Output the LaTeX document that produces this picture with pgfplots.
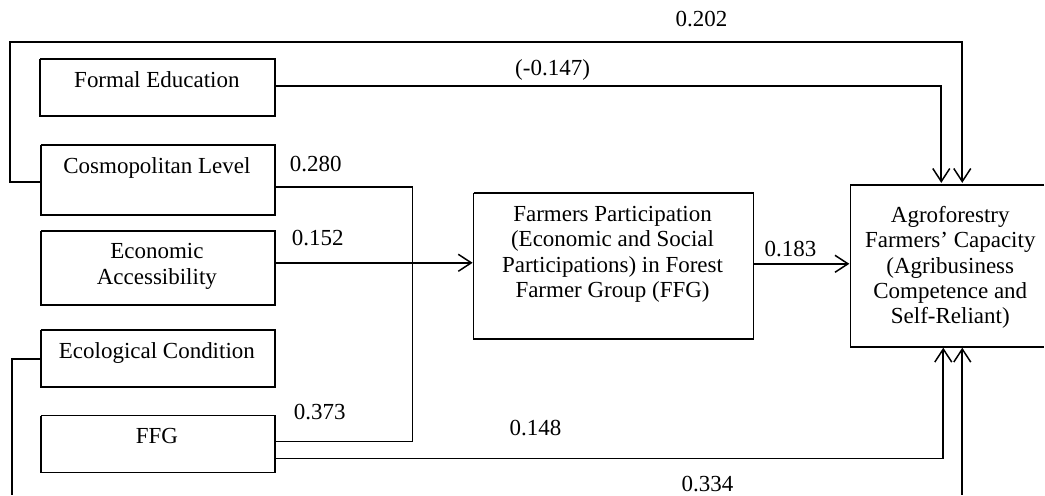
\documentclass[border=0pt]{standalone}
\usepackage{fontspec}
\setmainfont{Liberation Serif}
\usepackage{pgfplots}
\pgfplotsset{compat=1.18}
\usetikzlibrary{arrows.meta}
\begin{document}
\fontsize{23bp}{25.5bp}\selectfont
\begin{tikzpicture}[every node/.style={inner sep=0pt, outer sep=0pt}]
\begin{axis}[x=1bp, y=1bp, y dir=reverse,
  xmin=0, xmax=1045, ymin=0, ymax=495,
  hide axis, clip=false, scale only axis,
  ln/.style={black, solid, line width=1.6bp, line cap=butt, line join=miter, mark=none},
  ar/.style={ln, -{Straight Barb[length=13bp,width=17bp,line width=1.5bp]}}]
% invisible frame
\addplot[draw=none, mark=none] coordinates {(0,0) (1045,495)};
% boxes
\addplot[ln] coordinates {(40,59) (275,59) (275,116) (40,116) (40,59)};
\addplot[ln] coordinates {(41,145) (275,145) (275,215) (41,215) (41,145)};
\addplot[ln] coordinates {(41,231) (275,231) (275,305) (41,305) (41,231)};
\addplot[ln] coordinates {(41,330) (275,330) (275,387) (41,387) (41,330)};
\addplot[ln] coordinates {(41,416) (275,416) (275,473) (41,473) (41,416)};
\addplot[ln] coordinates {(474,193) (754,193) (754,339) (474,339) (474,193)};
\addplot[ln] coordinates {(1045,185) (851,185) (851,347) (1045,347)};
% paths
\addplot[ar] coordinates {(41,182) (10,182) (10,42) (963,42) (963,183)};
\addplot[ar] coordinates {(275,86) (942,86) (942,183)};
\addplot[ln] coordinates {(275,187) (413,187)};
\addplot[ln] coordinates {(275,263) (413,263)};
\addplot[ar] coordinates {(413,263) (473,263)};
\addplot[ln] coordinates {(413,187) (413,442)};
\addplot[ln] coordinates {(275,442) (413,442)};
\addplot[ar] coordinates {(275,459) (944,459) (944,348)};
\addplot[ln] coordinates {(41,359) (12,359) (12,495)};
\addplot[ar] coordinates {(963,495) (963,348)};
\addplot[ar] coordinates {(754,264) (850,264)};
% box texts
\node[anchor=base] at (axis cs:157,88) {Formal Education};
\node[anchor=base] at (axis cs:157,174) {Cosmopolitan Level};
\node[anchor=base] at (axis cs:157,259) {Economic};
\node[anchor=base] at (axis cs:157,285) {Accessibility};
\node[anchor=base] at (axis cs:157,359) {Ecological Condition};
\node[anchor=base] at (axis cs:157,444) {FFG};
\node[anchor=base] at (axis cs:613,222) {Farmers Participation};
\node[anchor=base] at (axis cs:613,247) {(Economic and Social};
\node[anchor=base] at (axis cs:613,273) {Participations) in Forest};
\node[anchor=base] at (axis cs:613,298) {Farmer Group (FFG)};
\node[anchor=base] at (axis cs:951,223) {Agroforestry};
\node[anchor=base] at (axis cs:951,248) {Farmers’ Capacity};
\node[anchor=base] at (axis cs:951,274) {(Agribusiness};
\node[anchor=base] at (axis cs:951,299) {Competence and};
\node[anchor=base] at (axis cs:951,324) {Self-Reliant)};
% coefficients
\node[anchor=base] at (axis cs:702,27) {0.202};
\node[anchor=base] at (axis cs:553,76) {(-0.147)};
\node[anchor=base] at (axis cs:316,172) {0.280};
\node[anchor=base] at (axis cs:318,246) {0.152};
\node[anchor=base] at (axis cs:320,420) {0.373};
\node[anchor=base] at (axis cs:791,257) {0.183};
\node[anchor=base] at (axis cs:536,436) {0.148};
\node[anchor=base] at (axis cs:708,492) {0.334};
\end{axis}
\end{tikzpicture}
\end{document}
